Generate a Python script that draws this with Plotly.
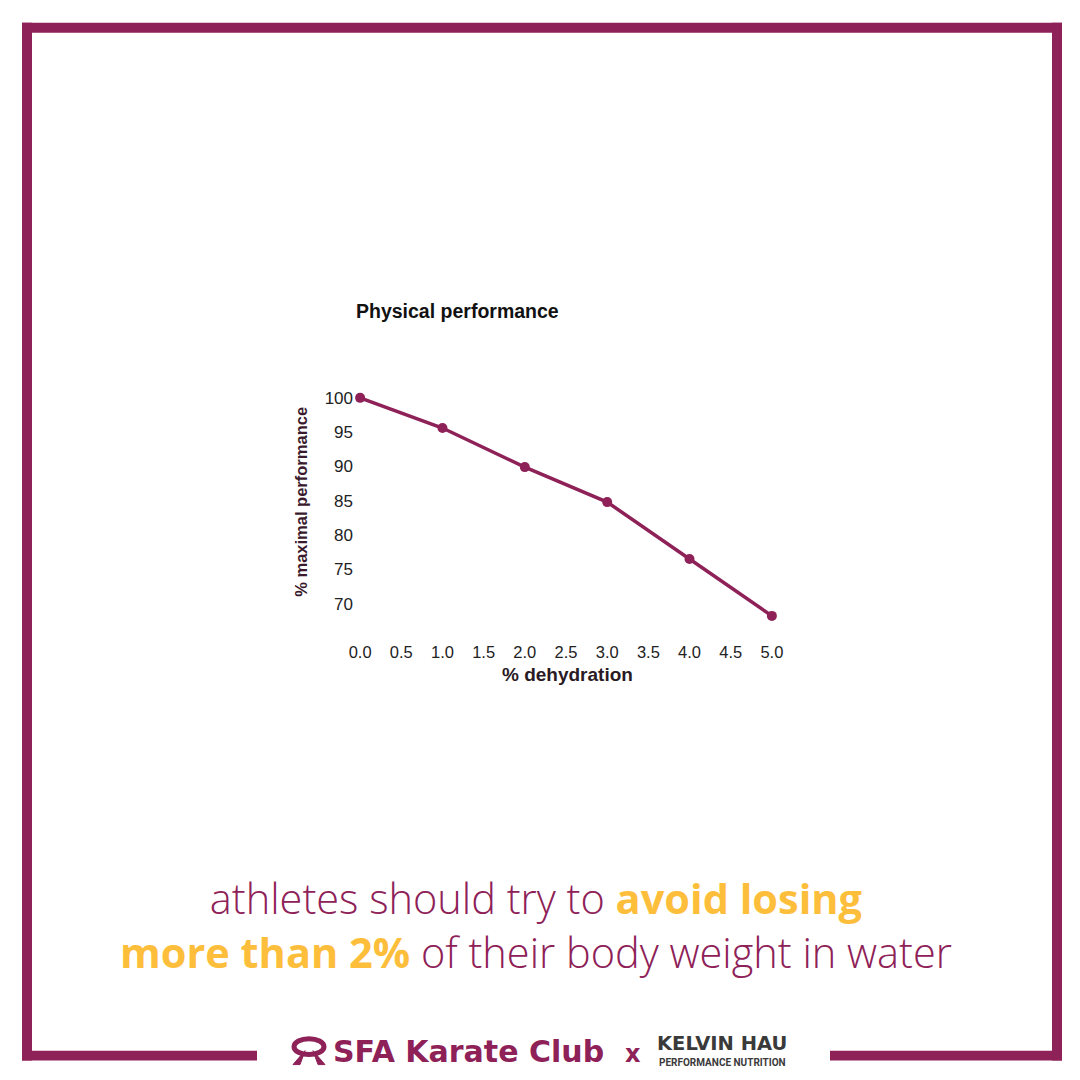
import plotly.graph_objects as go

# data
dehydration = [0.0, 1.0, 2.0, 3.0, 4.0, 5.0]
performance = [100.0, 95.6, 89.9, 84.8, 76.5, 68.2]
x_ticks = [0.0, 0.5, 1.0, 1.5, 2.0, 2.5, 3.0, 3.5, 4.0, 4.5, 5.0]
y_ticks = [70, 75, 80, 85, 90, 95, 100]

MAROON = "#8E2157"
YELLOW = "#FDBE3B"

# page geometry (pixels)
SIZE = 1080
L, R, T, B = 356, 304, 391, 448.5
W = SIZE - L - R
H = SIZE - T - B


def px(x):
    return (x - L) / W


def py(y):
    return (SIZE - B - y) / H


fig = go.Figure()
fig.add_trace(go.Scatter(
    x=dehydration, y=performance, mode="lines+markers",
    line=dict(color=MAROON, width=3.5),
    marker=dict(color=MAROON, size=10),
    cliponaxis=False, showlegend=False, hoverinfo="x+y"
))

# frame
bars = [
    (22, 22, 32, 1062),
    (22, 22, 1062, 32),
    (1052, 22, 1062, 1062),
    (22, 1052, 257, 1062),
    (830, 1052, 1062, 1062),
]
shapes = []
for x0, y0, x1, y1 in bars:
    shapes.append(dict(type="rect", xref="paper", yref="paper",
                       x0=px(x0), x1=px(x1), y0=py(y0), y1=py(y1),
                       fillcolor=MAROON, line=dict(width=0), layer="below"))

# little belt icon next to the club name
shapes.append(dict(type="circle", xref="paper", yref="paper",
                   x0=px(294), x1=px(324), y0=py(1040), y1=py(1056),
                   line=dict(color=MAROON, width=5)))
shapes.append(dict(type="path", xref="paper", yref="paper",
                   path="M {} {} L {} {} L {} {} Z M {} {} L {} {} L {} {} Z".format(
                       px(305), py(1052), px(293), py(1066), px(300), py(1066),
                       px(313), py(1052), px(325), py(1066), px(318), py(1066)),
                   fillcolor=MAROON, line=dict(color=MAROON, width=1)))

ann = []
ann.append(dict(text="<b>Physical performance</b>", x=px(354), y=py(311),
                xanchor="left", yanchor="middle",
                font=dict(family="Liberation Sans", size=19.5, color="#111")))
ann.append(dict(text="<b>% dehydration</b>", x=px(567), y=py(675),
                xanchor="center", yanchor="middle",
                font=dict(family="Liberation Sans", size=19, color="#2a1a24")))
ann.append(dict(text="<b>% maximal performance</b>", x=px(301), y=py(502),
                xanchor="center", yanchor="middle", textangle=-90,
                font=dict(family="Liberation Sans", size=16.5, color="#3a1a2c")))

message = ("athletes should try to <span style='color:%s'><b>avoid losing</b></span><br>"
           "<span style='color:%s'><b>more than 2%%</b></span> of their body weight in water"
           % (YELLOW, YELLOW))
ann.append(dict(text=message, x=px(536), y=py(926), xanchor="center", yanchor="middle",
                align="center",
                font=dict(family="Open Sans", size=41.5, color=MAROON, weight=300)))

ann.append(dict(text="<b>SFA Karate Club</b>", x=px(331), y=py(1053),
                xanchor="left", yanchor="middle",
                font=dict(family="DejaVu Sans", size=30, color=MAROON)))
ann.append(dict(text="<b>x</b>", x=px(633), y=py(1055),
                xanchor="center", yanchor="middle",
                font=dict(family="DejaVu Sans", size=24, color=MAROON)))
ann.append(dict(text="<b>KELVIN HAU</b>", x=px(722), y=py(1045),
                xanchor="center", yanchor="middle",
                font=dict(family="DejaVu Sans", size=19.5, color="#3a3a3a")))
ann.append(dict(text="<b>PERFORMANCE NUTRITION</b>", x=px(722), y=py(1064),
                xanchor="center", yanchor="middle",
                font=dict(family="Roboto", size=10, color="#3a3a3a")))

for a in ann:
    a.update(xref="paper", yref="paper", showarrow=False)

fig.update_layout(
    width=SIZE, height=SIZE,
    margin=dict(l=L, r=R, t=T, b=B),
    paper_bgcolor="white", plot_bgcolor="white",
    shapes=shapes, annotations=ann,
    xaxis=dict(range=[-0.05, 5.05], tickvals=x_ticks, tickformat=".1f",
               showgrid=False, zeroline=False, showline=False,
               ticklabelstandoff=9,
               tickfont=dict(family="Liberation Sans", size=16.5, color="#222")),
    yaxis=dict(range=[66, 101], tickvals=y_ticks,
               showgrid=False, zeroline=False, showline=False,
               ticklabelstandoff=2,
               tickfont=dict(family="Liberation Sans", size=17, color="#222")),
)

# the page has an 8px body margin by default; drop it so the figure fills the window
fig.write_html("out.html", config={"displayModeBar": False},
               post_script="document.body.style.margin='0';")
